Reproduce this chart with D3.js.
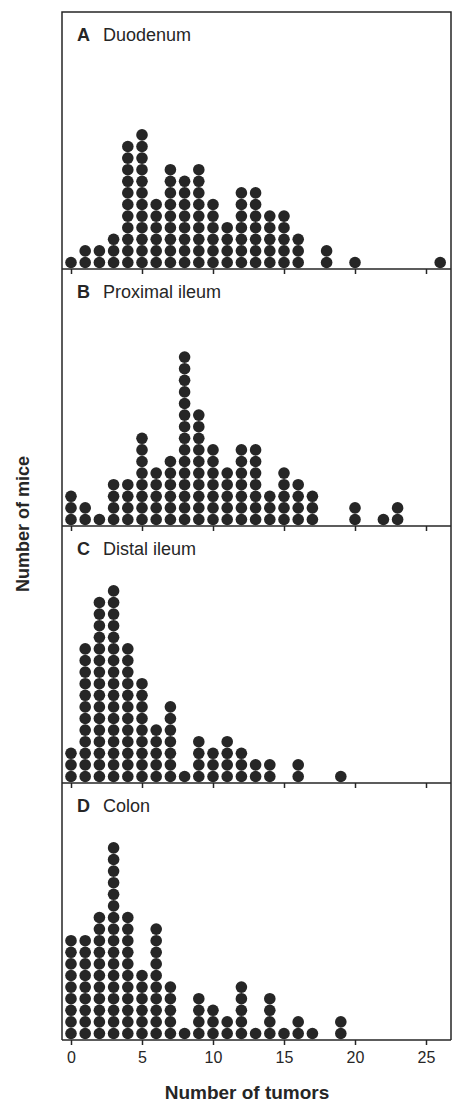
<!DOCTYPE html>
<html>
<head>
<meta charset="utf-8">
<script src="https://cdn.jsdelivr.net/npm/d3@7"></script>
<style>
    body { margin: 0; background: #fff; }
    svg { display: block; font-family: "Liberation Sans", Arial, sans-serif; }
</style>
</head>
<body>
<div id="chart"></div>
<script>
// Dot plot: number of mice (dots) per tumor count, four intestinal regions

const panelLetters = ['A', 'B', 'C', 'D'];
const panelNames = ['Duodenum', 'Proximal ileum', 'Distal ileum', 'Colon'];

// mice per tumor count, index = number of tumors
const duodenum = [1, 2, 2, 3, 11, 12, 6, 9, 8, 9, 6, 4, 7, 7, 5, 5, 3, 0, 2, 0, 1, 0, 0, 0, 0, 0, 1];
const proximalIleum = [3, 2, 1, 4, 4, 8, 5, 6, 15, 10, 7, 5, 7, 7, 3, 5, 4, 3, 0, 0, 2, 0, 1, 2];
const distalIleum = [3, 12, 16, 17, 12, 9, 5, 7, 1, 4, 3, 4, 3, 2, 2, 0, 2, 0, 0, 1];
const colon = [9, 9, 11, 17, 11, 6, 10, 5, 1, 4, 3, 2, 5, 1, 4, 1, 2, 1, 0, 2];

const xTicks = [0, 5, 10, 15, 20, 25];

const panels = [duodenum, proximalIleum, distalIleum, colon];

const config = {
    width: 453,
    height: 1102,
    left: 62,
    right: 451,
    top: 12,
    panelHeight: 257,
    rowStep: 11.6,
    dotRadius: 5.8,
    ink: '#262626'
};

const svg = d3.select('#chart')
    .append('svg')
    .attr('width', config.width)
    .attr('height', config.height);

const x = d3.scaleLinear()
    .domain([0, 25])
    .range([71, 426]);

// panel index -> top edge
const panelY = d3.scaleLinear()
    .domain([0, 1])
    .range([config.top, config.top + config.panelHeight]);

// outer frame
svg.append('path')
    .attr('d', `M${config.left},${panelY(4)}V${config.top}H${config.right}V${panelY(4)}`)
    .attr('fill', 'none')
    .attr('stroke', config.ink)
    .attr('stroke-width', 1.5);

panels.forEach((counts, i) => {
    const top = panelY(i);
    const base = panelY(i + 1);

    const y = d3.scaleLinear()
        .domain([0, 1])
        .range([base - 6.5, base - 6.5 - config.rowStep]);

    const g = svg.append('g').attr('class', `panel panel-${i}`);

    // baseline with down ticks
    g.append('g')
        .attr('transform', `translate(0,${base})`)
        .call(d3.axisBottom(x).tickValues(xTicks).tickSize(5).tickFormat(i === 3 ? d3.format('d') : ''))
        .call(ax => ax.select('.domain').remove())
        .call(ax => ax.selectAll('.tick line').attr('stroke', config.ink).attr('stroke-width', 1.5))
        .call(ax => ax.selectAll('.tick text')
            .attr('fill', config.ink)
            .attr('dy', '0.55em')
            .attr('y', 14)
            .style('font-size', '16px'));

    g.append('line')
        .attr('x1', config.left)
        .attr('x2', config.right)
        .attr('y1', base)
        .attr('y2', base)
        .attr('stroke', config.ink)
        .attr('stroke-width', 1.5);

    // one dot per mouse
    const dots = [];
    counts.forEach((n, t) => {
        for (let k = 0; k < n; k++) dots.push({ t, k });
    });

    g.selectAll('circle')
        .data(dots)
        .enter()
        .append('circle')
        .attr('cx', d => x(d.t))
        .attr('cy', d => y(d.k))
        .attr('r', config.dotRadius)
        .attr('fill', config.ink);

    // panel label
    const label = g.append('text')
        .attr('x', 77)
        .attr('y', top + 29)
        .attr('fill', config.ink)
        .style('font-size', '18px');
    label.append('tspan')
        .style('font-weight', 'bold')
        .text(panelLetters[i]);
    label.append('tspan')
        .attr('dx', 13)
        .text(panelNames[i]);
});

// axis titles
svg.append('text')
    .attr('x', 247)
    .attr('y', 1099)
    .attr('text-anchor', 'middle')
    .attr('fill', config.ink)
    .style('font-size', '19px')
    .style('font-weight', 'bold')
    .text('Number of tumors');

svg.append('text')
    .attr('transform', 'rotate(-90)')
    .attr('x', -524)
    .attr('y', 29)
    .attr('text-anchor', 'middle')
    .attr('fill', config.ink)
    .style('font-size', '18px')
    .style('font-weight', 'bold')
    .text('Number of mice');
</script>
</body>
</html>
